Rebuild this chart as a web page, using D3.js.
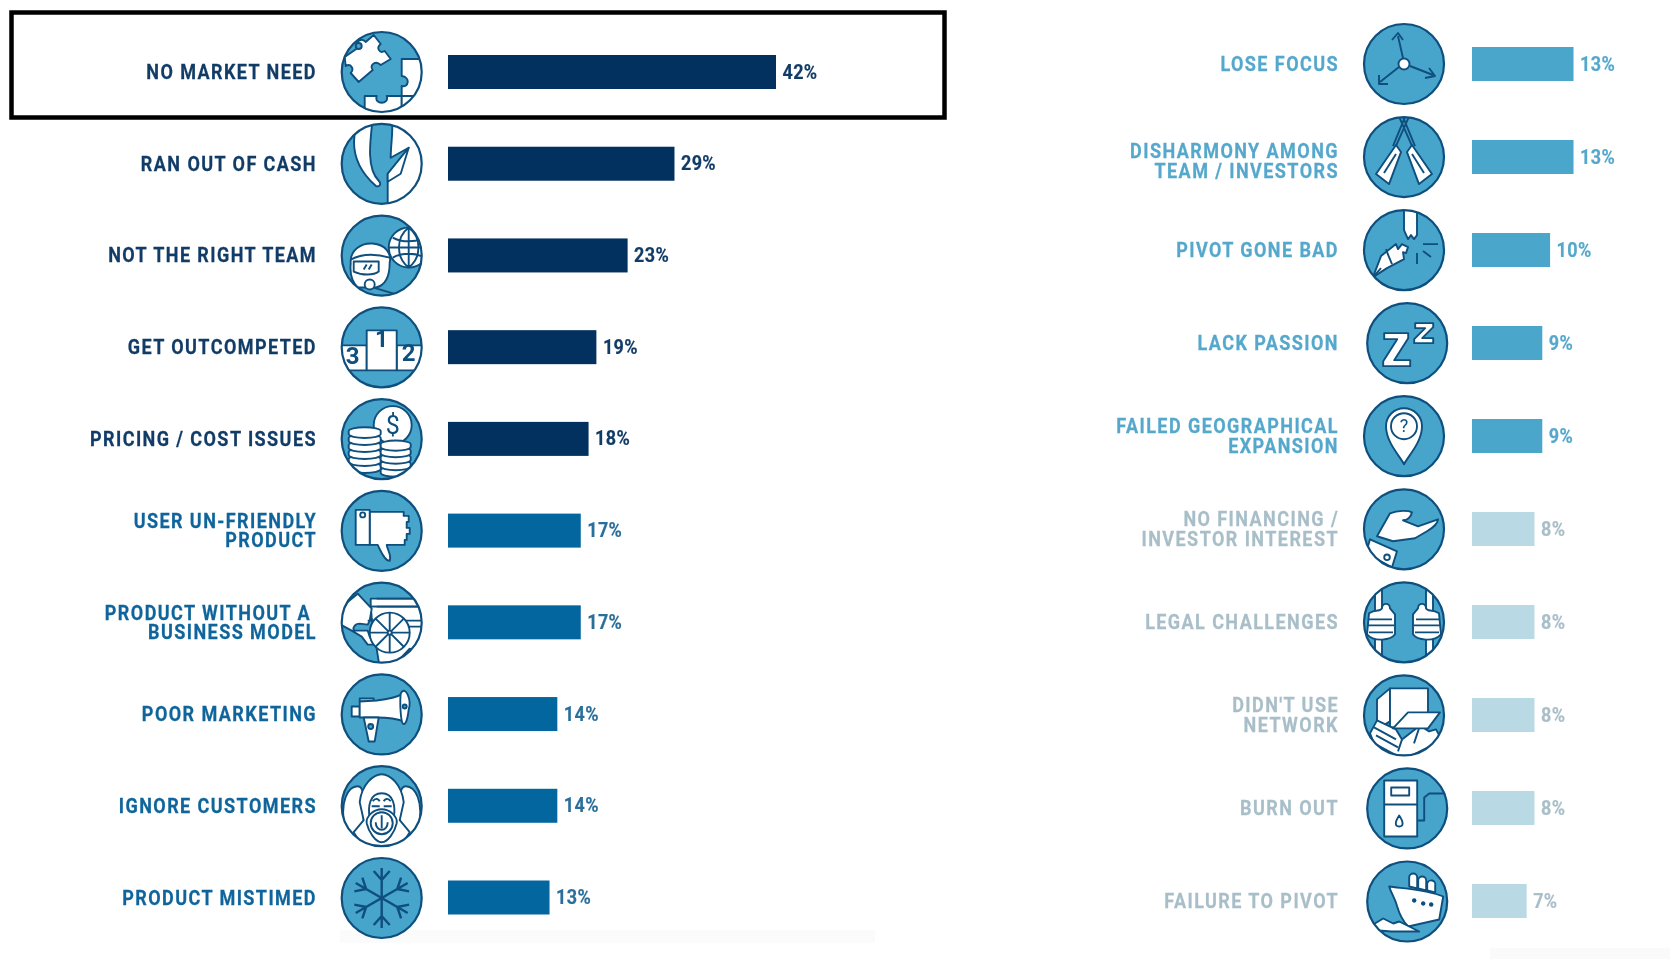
<!DOCTYPE html>
<html><head><meta charset="utf-8">
<script src="https://cdn.jsdelivr.net/npm/d3@7/dist/d3.min.js"></script>
<style>html,body{margin:0;padding:0;background:#fff}svg{display:block;filter:blur(.45px)}text{font-family:Roboto,"Liberation Sans",sans-serif;font-weight:700}</style>
</head><body><svg id="c" width="1670" height="959"></svg>
<script>
const leftLabels=["NO MARKET NEED","RAN OUT OF CASH","NOT THE RIGHT TEAM","GET OUTCOMPETED","PRICING / COST ISSUES","USER UN-FRIENDLY|PRODUCT","PRODUCT WITHOUT A\u00a0|BUSINESS MODEL","POOR MARKETING","IGNORE CUSTOMERS","PRODUCT MISTIMED"];
const leftValues=[42,29,23,19,18,17,17,14,14,13];
const leftTiers=[0,0,0,0,0,1,1,1,1,1];
const leftIcons=["puzzle","cash","team","podium","coins","thumb","wheel","mega","monkey","snow"];
const rightLabels=["LOSE FOCUS","DISHARMONY AMONG|TEAM / INVESTORS","PIVOT GONE BAD","LACK PASSION","FAILED GEOGRAPHICAL|EXPANSION","NO FINANCING /|INVESTOR INTEREST","LEGAL CHALLENGES","DIDN'T USE|NETWORK","BURN OUT","FAILURE TO PIVOT"];
const rightValues=[13,13,10,9,9,8,8,8,8,7];
const rightTiers=[2,2,2,2,2,3,3,3,3,3];
const rightIcons=["arrows","oars","pivot","zzz","pin","hand","legal","network","fuel","ship"];
const rightIconShift=[0,0,0,1,0,0,0,0,1,1];
const rightLabelNudge=[0,1,0,0,0,0,0,0,0,0];
const barColors=["#02305f","#03669f","#4ba6cc","#b9d9e4"];
const labelColors=["#123c68","#0f659b","#55a8cc","#a8bec8"];
const valueColors=["#123c68","#2a6f9c","#55a8cc","#a8bec8"];
const ICON_FILL="#47a4cb",ICON_LINE="#0e4f7e",W="#fff",N="none",L=ICON_LINE;

const svg=d3.select("#c");
const x=d3.scaleLinear().domain([0,42]).range([0,328]);
const yL=d3.scalePoint().domain(d3.range(10)).range([72,897.5]);
const yR=d3.scalePoint().domain(d3.range(10)).range([64,901]);
const iconYL=d3.scalePoint().domain(d3.range(10)).range([72,898]);
const iconYR=d3.scalePoint().domain(d3.range(10)).range([64,901.5]);

const spokes=(cx,cy,r,n)=>d3.range(n).map(i=>{const a=i*2*Math.PI/n;return `M${cx},${cy}L${(cx+r*Math.cos(a)).toFixed(1)},${(cy+r*Math.sin(a)).toFixed(1)}`}).join("");
const circ=(cx,cy,r)=>`M${cx-r},${cy}a${r},${r} 0 1,0 ${2*r},0a${r},${r} 0 1,0 ${-2*r},0Z`;
const coinStack=(cx,top,rx,n,step)=>d3.range(n).map(i=>[circ2(cx,top+(n-1-i)*step,rx)]).map(d=>[d[0],W]);
function circ2(cx,cy,rx){const ry=rx*0.24;return `M${cx-rx},${cy}a${rx},${ry} 0 1,1 ${2*rx},0v3a${rx},${ry} 0 1,1 ${-2*rx},0Z`;}
const ICONS={
puzzle:[["M-8,-37L-1,-28C-6,-24-2,-18 3,-21L9,-13L-1,-7C-6,-12-13,-7-9,-2L-23,10L-31,1C-27,-3-31,-9-36,-6L-37,-15L-24,-24C-28,-30-20,-35-16,-30Z",W],
 ["M20,-13L45,-13L45,24L20,24L20,14C27,16 29,5 20,4Z",W],
 ["M-17,24L-5,24C-8,33 8,33 5,24L20,24L20,45L-17,45Z",W],["M20,24L45,24L45,45L20,45Z",W],[circ(-23,-26,3),ICON_FILL]],
cash:[["M10,-45L45,-45L45,45L6,45L6,10L27,-16L9,-6C9,-20 12,-34 10,-45Z",W],
 ["M-25,-40C-33,-12-22,8-6,22C-2,24 0,20-3,17C-15,5-12,-20-9,-45Z",W],["M6,10L27,-16L19,10L6,18Z",W]],
team:[[circ(27,-8,20),W],["M27,-28V12M7,-8H47M27,-28C14,-18 14,2 27,12M27,-28C40,-18 40,2 27,12M11,-18C20,-13 34,-13 43,-18M11,2C20,-3 34,-3 43,2",N],
 ["M-31,8C-32,-6-20,-13-9,-12C4,-11 10,-2 8,7C8,20 4,30-6,32L-24,32C-30,26-32,18-31,8Z",W],["M-31,4C-20,-2-6,-2 8,2",N],
 ["M-28,6H-3V16C-8,20-20,20-28,16Z",W],["M-18,14L-15,9M-13,14L-10,9",N],[circ(-12,29,5),W],["M-8,32L12,38",N]],
podium:[["M-45,-2H-15V23H-45Z",W],["M15,-2H45V23H15Z",W],["M-15,-17H15V23H-15Z",W]],
coins:[[circ(11,-14,19),W],...coinStack(-17,-8,16,6,7),...coinStack(14,5,15,5,6.5)],
thumb:[["M-12,-19H22V-15H27V-9H25V-3H28V3H25V9H23V14H5C6,20 10,24 8,30C3,30-1,20-4,14H-12Z",W],["M-26,-21H-12V14H-26Z",W],[circ(-19,-16,2.5),W]],
wheel:[["M-11,-24H45V-16H-11Z",W],["M-11,-16H45V45H-2L-10,-5Z",W],
 ["M-41,-15L-24,-29L-10,-14L-12,-2L-14,2L-22,1C-27,1-30,6-27,8H-14L-12,14L-8,22L-14,22L-20,14L-30,8L-41,2Z",W],
 ["M-5,-16H45M-5,-24H45",N],["M-14,-2H45M-8,4H45",N],["M28,26L45,32L45,45H10Z",ICON_FILL],[circ(8,10,20),W],[spokes(8,10,20,8),N],[circ(8,10,2),W]],
mega:[["M-30,-8H-22V2H-30Z",W],["M-22,-16H-8V-13H-22Z",W],["M-22,-13L-5,-14C5,-15 15,-17 22,-21V7C15,4 5,3-5,3H-22Z",W],["M-18,3H-3L-7,27L-13,27Z",W],[circ(-11,12,2.5),ICON_FILL],["M19,-21C24,-30 30,-14 27,-5C26,4 24,12 21,9C19,6 18,-12 19,-21Z",W],[circ(23,-8,2),ICON_FILL]],
monkey:[["M-37,20C-42,-4-34,-20-24,-20C-15,-20-19,6-18,14L-14,40L-30,40Z",W],["M37,20C42,-4 34,-20 24,-20C15,-20 19,6 18,14L14,40L30,40Z",W],
 ["M-22,-4C-20,-22-8,-32 0,-32C8,-32 20,-22 22,-4L18,14L28,26L18,42H-18L-28,26L-18,14Z",W],
 ["M-12,12C-14,0-12,-13 0,-13C12,-13 14,0 12,12",N],["M-9,-5C-6,-9-3,-7-2,-5M9,-5C6,-9 3,-7 2,-5M-10,0H-2M2,0H10",N],
 ["M0,3C8,3 16,10 15,17C13,26 6,36 0,36C-6,36-13,26-15,17C-16,10-8,3 0,3Z",W],[circ(0,17,11),W],["M0,9V22M-6,16C-6,26 6,26 6,16",N]],
snow:[...d3.range(6).map(i=>["M0,0V-30M-8,-27L0,-18L8,-27",N,60*i])],
arrows:[["M-1,-6L-6,-28M-12,-24L-6,-31L-1,-24M-5,3L-24,18M-25,11L-25,20L-16,20M6,2L29,11M21,14L31,12L25,4",N],[circ(0,0,5.5),W]],
oars:[["M-7,-45L9,-9M7,-45L-9,-9M-3,-45L11,-11M3,-45L-11,-11",N],["M-8,-12L-28,17L-15,27L-3,-5Z",W],["M-20,16L-8,-3",N],["M8,-12L28,17L15,27L3,-5Z",W],["M20,16L8,-3",N]],
pivot:[["M0,-45H13V-15L10,-11L7,-15L4,-11L0,-20Z",W],["M-31,27L-23,6L-8,-6L-6,-1L-2,-6L4,-3L2,3L-1,2L0,9L-17,18Z",W],["M-18,-1C-16,5-14,9-12,14M-31,27L-23,18",N],["M19,-6H34M19,1L27,7M13,3V14",N]],
zzz:[["M-23,-10H1V-5L-13,17H3V23H-24V18L-10,-4H-23Z",W],["M8,-20H26V-16L15,-5H26V0H7V-4L18,-15H8Z",W]],
pin:[["M0,28C-4,20-18,6-18,-10A18,18 0 1,1 18,-10C18,6 4,20 0,28Z",W],[circ(0,-10,13),W]],
hand:[["M-27,7L-14,-16C-6,-19 4,-19 8,-17C7,-12 3,-9-1,-9L14,-3L34,-10C34,-7 30,-2 23,2L11,9L-11,12Z",W],["M-34,10L-7,22L-12,38L-38,24Z",W],[circ(-17,28,2.8),W]],
legal:[["M-29,-45H-22V45H-29ZM22,-45H29V45H22Z",W],
 ["M-35,-9C-28,-14-24,-10-22,-14C-22,-20-14,-20-14,-14L-9,-8L-9,12C-13,18-30,20-37,12Z",W],["M-35,-3H-12M-36,3H-10M-35,10H-11",N],
 ["M35,-9C28,-14 24,-10 22,-14C22,-20 14,-20 14,-14L9,-8L9,12C13,18 30,20 37,12Z",W],["M35,-3H12M36,3H10M35,10H11",N]],
network:[["M-27,-16L-14,-27V6L-27,14Z",W],["M-14,-27H24V12H-14Z",W],["M-34,18L-27,5L-8,14L-2,24L16,10L25,16L32,14L38,25L8,40L-4,42L-30,28Z",W],["M-28,20L-6,32M-30,12L-8,24M-2,24L-6,36M16,10L10,28",N],["M-11,13L4,-3H36L24,13Z",W]],
fuel:[["M-23,-28H10V28H-23Z",W],["M-16,-21H2V-13H-16Z",W],["M-23,-4H10",N],["M-8,7C-12,13-13,18-8,18C-3,18-4,13-8,7Z",N],["M10,12H17V-11L22,-15H45",N]],
ship:[["M-18,-15C-4,-13 20,-12 36,-5L32,18L1,25C-6,18-8,12-10,5C-12,-3-16,-8-18,-15Z",W],["M2,-15V-24a4,4 0 0,1 8,0V-13ZM11,-13V-21a4,4 0 0,1 8,0V-11ZM20,-11V-18a4,4 0 0,1 8,2V-9Z",W],
 [circ(7,-1,1.3),L],[circ(16,2,1.3),L],[circ(24,3,1.3),L],["M-34,23L-24,17L-14,22L-8,20L12,30L-16,30L-28,29Z",W]]
};

function drawIcon(g,name,id){
  g.append("clipPath").attr("id",id).append("circle").attr("r",40);
  g.append("circle").attr("r",40).attr("fill",ICON_FILL);
  const c=g.append("g").attr("clip-path",`url(#${id})`);
  c.selectAll("path").data(ICONS[name]).join("path").attr("d",d=>d[0]).attr("fill",d=>d[1]).attr("stroke",L).attr("stroke-width",name==="snow"?2.4:1.9).attr("stroke-linejoin","round").attr("transform",d=>d[2]?`rotate(${d[2]})`:null);
  const tx=(t,x0,y0,s)=>c.append("text").attr("x",x0).attr("y",y0).attr("text-anchor","middle").attr("font-size",s).attr("fill",L).text(t);
  if(name==="podium"){tx("1",0,0,23);tx("2",27,14,24);tx("3",-29,17,24);}
  if(name==="coins"){tx("$",11,-5,25).style("font-weight",400);}
  if(name==="pin"){tx("?",0,-4,18).style("font-weight",400);}
  g.append("circle").attr("r",40).attr("fill","none").attr("stroke",L).attr("stroke-width",2.2);
}

function column(labels,values,tiers,icons,y,iy,cfg){
  const g=svg.append("g");
  labels.forEach((lab,i)=>{
    const lines=lab.split("|"),yc=y(i),col=labelColors[tiers[i]],nudge=cfg.nudge?cfg.nudge[i]*4:0;
    lines.forEach((t,k)=>{
      g.append("text").attr("transform",`translate(${cfg.labelX},${yc+7+nudge+(k-(lines.length-1)/2)*cfg.lineStep}) scale(.888,1)`).attr("text-anchor","end").attr("font-size",20.3).attr("letter-spacing",1.6).attr("fill",col).attr("stroke",col).attr("stroke-width",.25).text(t);
    });
    const ic=g.append("g").attr("transform",`translate(${cfg.iconX+(cfg.shift?cfg.shift[i]*3.2:0)},${iy(i)})`);
    drawIcon(ic,icons[i],cfg.id+i);
    g.append("rect").attr("x",cfg.barX).attr("y",yc-17).attr("width",x(values[i])).attr("height",34).attr("fill",barColors[tiers[i]]);
    g.append("text").attr("transform",`translate(${cfg.barX+x(values[i])+6.5},${yc+6.5}) scale(.9,1)`).attr("font-size",20).attr("letter-spacing",.4).attr("fill",valueColors[tiers[i]]).attr("stroke",valueColors[tiers[i]]).attr("stroke-width",.2).text(values[i]+"%");
  });
}
svg.append("rect").attr("x",340).attr("y",930).attr("width",535).attr("height",13).attr("fill","#fbfbfb");
svg.append("rect").attr("x",1490).attr("y",948).attr("width",180).attr("height",11).attr("fill","#fafafa");
column(leftLabels,leftValues,leftTiers,leftIcons,yL,iconYL,{labelX:317,iconX:381.7,barX:448,id:"l",lineStep:18.8});
column(rightLabels,rightValues,rightTiers,rightIcons,yR,iconYR,{labelX:1339,iconX:1404,barX:1472,id:"r",shift:rightIconShift,nudge:rightLabelNudge,lineStep:19.7});
svg.append("rect").attr("x",11.5).attr("y",12.5).attr("width",933).attr("height",105).attr("fill","none").attr("stroke","#000").attr("stroke-width",4.5);
</script></body></html>
